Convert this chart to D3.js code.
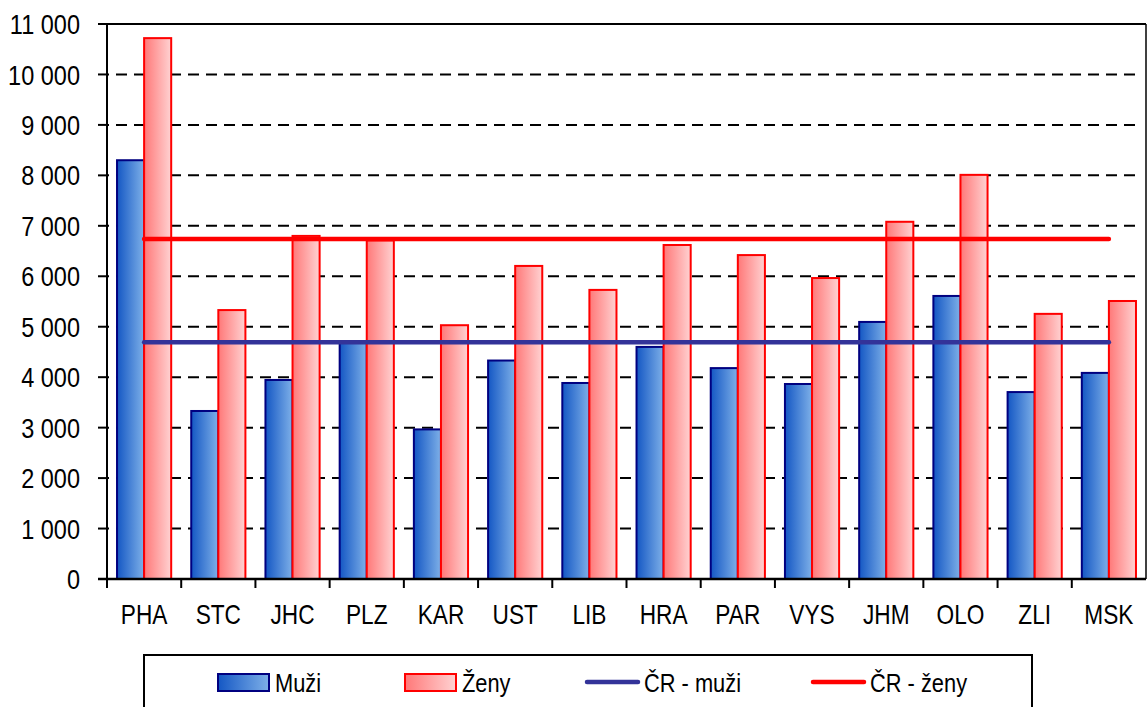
<!DOCTYPE html>
<html>
<head>
<meta charset="utf-8">
<script src="https://cdn.jsdelivr.net/npm/d3@7"></script>
<style>
  body { margin: 0; background: #fff; }
  svg text { font-family: "Liberation Sans", Arial, sans-serif; fill: #000; }
</style>
</head>
<body>
<div id="chart"></div>
<script>
// kraje
const regions = ["PHA", "STC", "JHC", "PLZ", "KAR", "UST", "LIB", "HRA", "PAR", "VYS", "JHM", "OLO", "ZLI", "MSK"];
const muzi = [8300, 3330, 3945, 4700, 2965, 4330, 3885, 4600, 4180, 3865, 5095, 5610, 3705, 4085];
const zeny = [10720, 5330, 6800, 6710, 5030, 6205, 5730, 6620, 6420, 5965, 7080, 8010, 5255, 5510];
const crMuzi = 4690;
const crZeny = 6740;
const yTicks = [0, 1000, 2000, 3000, 4000, 5000, 6000, 7000, 8000, 9000, 10000, 11000];
const legendLabels = ["Muži", "Ženy", "ČR - muži", "ČR - ženy"];

const width = 1148, height = 707;
const margin = { top: 24, right: 2, bottom: 128, left: 107 };
const plotW = width - margin.left - margin.right;
const plotH = height - margin.top - margin.bottom;
const sx = 0.84; // narrow font look

const svg = d3.select("#chart").append("svg")
  .attr("width", width)
  .attr("height", height);

const defs = svg.append("defs");
const addGrad = (id, c1, c2) => {
  const g = defs.append("linearGradient").attr("id", id)
    .attr("x1", "0%").attr("x2", "100%").attr("y1", "0%").attr("y2", "0%");
  g.append("stop").attr("offset", "0%").attr("stop-color", c1);
  g.append("stop").attr("offset", "100%").attr("stop-color", c2);
};
addGrad("gBlue", "#1457c4", "#7eb0e8");
addGrad("gRed", "#ff7878", "#ffd2d2");

const x = d3.scaleBand().domain(regions).range([0, plotW]).paddingInner(0).paddingOuter(0);
const x1 = d3.scaleBand().domain(["m", "z"]).range([0, x.bandwidth()]).paddingInner(0).paddingOuter(0.37);
const y = d3.scaleLinear().domain([0, 11000]).range([plotH, 0]);

const g = svg.append("g").attr("transform", `translate(${margin.left},${margin.top})`);

// gridlines
g.append("g").selectAll("line")
  .data(yTicks.filter(d => d > 0 && d < 11000))
  .join("line")
  .attr("x1", 0).attr("x2", plotW - 6)
  .attr("y1", d => y(d)).attr("y2", d => y(d))
  .attr("stroke", "#000").attr("stroke-width", 2)
  .attr("stroke-dasharray", "11,7")
  .attr("stroke-dashoffset", -9);

// plot top and right border
g.append("line").attr("x1", 0).attr("x2", plotW).attr("y1", 0).attr("y2", 0)
  .attr("stroke", "#000").attr("stroke-width", 2);
g.append("line").attr("x1", plotW).attr("x2", plotW).attr("y1", 0).attr("y2", plotH)
  .attr("stroke", "#000").attr("stroke-width", 1.5);

// bars
const bars = g.append("g").selectAll("g")
  .data(regions)
  .join("g")
  .attr("transform", d => `translate(${x(d)},0)`);

bars.append("rect")
  .attr("x", x1("m"))
  .attr("y", (d, i) => y(muzi[i]))
  .attr("width", x1.bandwidth())
  .attr("height", (d, i) => plotH - y(muzi[i]))
  .attr("fill", "url(#gBlue)")
  .attr("stroke", "#000080").attr("stroke-width", 2);

bars.append("rect")
  .attr("x", x1("z"))
  .attr("y", (d, i) => y(zeny[i]))
  .attr("width", x1.bandwidth())
  .attr("height", (d, i) => plotH - y(zeny[i]))
  .attr("fill", "url(#gRed)")
  .attr("stroke", "#ff0000").attr("stroke-width", 2);

// CR averages
const avgLine = (val, color) => {
  g.append("line")
    .attr("x1", x(regions[0]) + x.bandwidth() / 2)
    .attr("x2", x(regions[regions.length - 1]) + x.bandwidth() / 2)
    .attr("y1", y(val)).attr("y2", y(val))
    .attr("stroke", color).attr("stroke-width", 4.5)
    .attr("stroke-linecap", "round");
};
avgLine(crZeny, "#ff0000");
avgLine(crMuzi, "#333399");

// y axis
const yAxis = g.append("g");
yAxis.append("line").attr("x1", 0).attr("x2", 0).attr("y1", 0).attr("y2", plotH)
  .attr("stroke", "#000").attr("stroke-width", 2);
yAxis.selectAll("line.tick").data(yTicks).join("line")
  .attr("class", "tick")
  .attr("x1", -9).attr("x2", 0)
  .attr("y1", d => y(d)).attr("y2", d => y(d))
  .attr("stroke", "#000").attr("stroke-width", 2);
const fmt = d => d3.format(",")(d).replace(/,/g, " ");
yAxis.selectAll("text").data(yTicks).join("text")
  .attr("transform", d => `translate(-27,${y(d)}) scale(${sx},1)`)
  .attr("text-anchor", "end")
  .attr("dy", "0.36em")
  .style("font-size", "28px")
  .text(fmt);

// x axis
const xAxis = g.append("g").attr("transform", `translate(0,${plotH})`);
xAxis.append("line").attr("x1", -9).attr("x2", plotW).attr("y1", 0).attr("y2", 0)
  .attr("stroke", "#000").attr("stroke-width", 2.5);
xAxis.selectAll("line.tick").data(regions).join("line")
  .attr("class", "tick")
  .attr("x1", d => x(d)).attr("x2", d => x(d))
  .attr("y1", 0).attr("y2", 9)
  .attr("stroke", "#000").attr("stroke-width", 2);
xAxis.selectAll("text").data(regions).join("text")
  .attr("transform", d => `translate(${x(d) + x.bandwidth() / 2},45) scale(${sx},1)`)
  .attr("text-anchor", "middle")
  .style("font-size", "27px")
  .text(d => d);

// legend
const leg = svg.append("g");
leg.append("rect")
  .attr("x", 144).attr("y", 655).attr("width", 888).attr("height", 70)
  .attr("fill", "#fff").attr("stroke", "#000").attr("stroke-width", 2);

const legItems = [
  { label: legendLabels[0], type: "rect", fill: "url(#gBlue)", stroke: "#000080", x: 218 },
  { label: legendLabels[1], type: "rect", fill: "url(#gRed)", stroke: "#ff0000", x: 405 },
  { label: legendLabels[2], type: "line", stroke: "#333399", x: 587 },
  { label: legendLabels[3], type: "line", stroke: "#ff0000", x: 813 }
];
legItems.forEach(it => {
  if (it.type === "rect") {
    leg.append("rect").attr("x", it.x).attr("y", 674).attr("width", 51).attr("height", 17)
      .attr("fill", it.fill).attr("stroke", it.stroke).attr("stroke-width", 2);
  } else {
    leg.append("line").attr("x1", it.x).attr("x2", it.x + 51).attr("y1", 682).attr("y2", 682)
      .attr("stroke", it.stroke).attr("stroke-width", 4.5).attr("stroke-linecap", "round");
  }
  leg.append("text")
    .attr("transform", `translate(${it.x + 57},692) scale(${sx},1)`)
    .style("font-size", "26px")
    .text(it.label);
});
</script>
</body>
</html>
